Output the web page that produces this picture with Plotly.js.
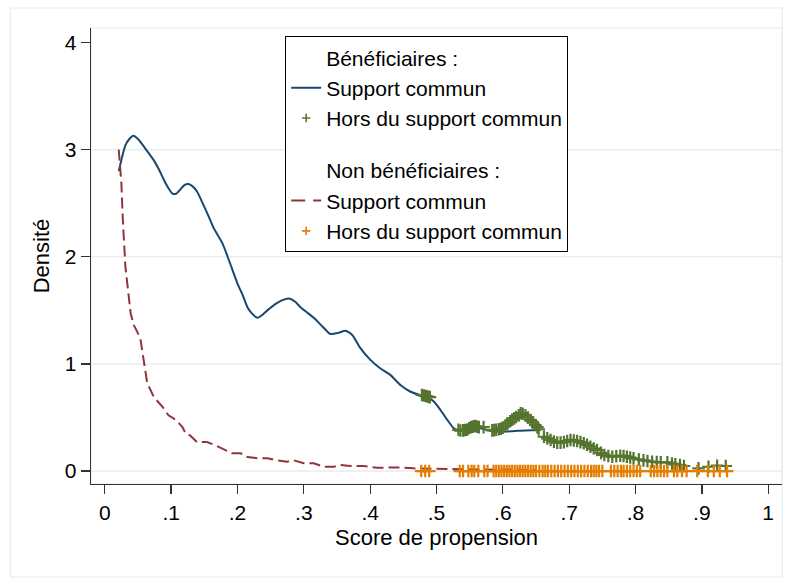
<!DOCTYPE html>
<html>
<head>
<meta charset="utf-8">
<script src="https://cdn.plot.ly/plotly-3.0.1.min.js"></script>
<style>
  html, body { margin: 0; padding: 0; background: #ffffff; }
  #chart { width: 788px; height: 581px; }
</style>
</head>
<body>
<div id="chart"></div>
<script>
// ---- Data ----
// Bénéficiaires, support commun (density line)
var benefSupportX = [0.021, 0.026, 0.031, 0.037, 0.043, 0.050, 0.060, 0.074, 0.082, 0.089,
  0.096, 0.102, 0.108, 0.114, 0.120, 0.126, 0.132, 0.139, 0.149, 0.157,
  0.164, 0.177, 0.187, 0.200, 0.208, 0.215, 0.222, 0.230, 0.238, 0.245,
  0.260, 0.270, 0.278, 0.287, 0.295, 0.305, 0.315, 0.328, 0.340, 0.352,
  0.363, 0.373, 0.385, 0.400, 0.415, 0.430, 0.446, 0.461, 0.475, 0.484,
  0.496, 0.506, 0.516, 0.526, 0.536, 0.551, 0.566, 0.581, 0.597, 0.622, 0.657];
var benefSupportY = [2.80, 2.93, 3.04, 3.10, 3.13, 3.10, 3.02, 2.90, 2.81, 2.72,
  2.64, 2.59, 2.59, 2.63, 2.67, 2.68, 2.66, 2.61, 2.48, 2.37,
  2.27, 2.13, 1.97, 1.75, 1.64, 1.53, 1.47, 1.43, 1.46, 1.50,
  1.57, 1.60, 1.61, 1.58, 1.53, 1.48, 1.43, 1.35, 1.28, 1.29,
  1.31, 1.27, 1.15, 1.04, 0.96, 0.90, 0.80, 0.74, 0.71, 0.70,
  0.65, 0.57, 0.48, 0.40, 0.376, 0.39, 0.40, 0.376, 0.367, 0.376, 0.383];

// Bénéficiaires, hors du support commun (markers)
var benefOffX = [0.478, 0.481, 0.484, 0.487, 0.490, 0.533, 0.536, 0.540, 0.543, 0.546,
  0.549, 0.552, 0.555, 0.558, 0.561, 0.564, 0.571, 0.584, 0.587, 0.590,
  0.594, 0.597, 0.600, 0.604, 0.607, 0.611, 0.614, 0.617, 0.620, 0.624,
  0.627, 0.630, 0.634, 0.638, 0.642, 0.645, 0.649, 0.652, 0.654, 0.662,
  0.667, 0.672, 0.677, 0.682, 0.687, 0.692, 0.697, 0.702, 0.707, 0.712,
  0.717, 0.722, 0.727, 0.732, 0.737, 0.742, 0.748, 0.753, 0.759, 0.765,
  0.771, 0.777, 0.782, 0.787, 0.792, 0.797, 0.805, 0.812, 0.818, 0.825,
  0.832, 0.838, 0.848, 0.855, 0.860, 0.867, 0.873, 0.895, 0.910, 0.923, 0.936];
var benefOffY = [0.71, 0.705, 0.70, 0.695, 0.69, 0.385, 0.378, 0.38, 0.383, 0.386,
  0.40, 0.41, 0.415, 0.42, 0.415, 0.41, 0.41, 0.38, 0.382, 0.385,
  0.39, 0.395, 0.405, 0.425, 0.445, 0.465, 0.48, 0.49, 0.505, 0.52,
  0.54, 0.535, 0.52, 0.50, 0.476, 0.455, 0.43, 0.41, 0.39, 0.32,
  0.305, 0.29, 0.275, 0.265, 0.265, 0.27, 0.28, 0.29, 0.285, 0.28,
  0.27, 0.26, 0.245, 0.227, 0.21, 0.196, 0.17, 0.15, 0.14, 0.134,
  0.138, 0.143, 0.14, 0.134, 0.126, 0.118, 0.108, 0.10, 0.094, 0.087,
  0.083, 0.081, 0.081, 0.07, 0.063, 0.055, 0.047, 0.025, 0.04, 0.05, 0.047];

// Non bénéficiaires, support commun (density line)
var nonBenefSupportX = [0.021, 0.023, 0.025, 0.027, 0.029, 0.031, 0.035, 0.039, 0.044, 0.049,
  0.054, 0.059, 0.064, 0.074, 0.087, 0.096, 0.104, 0.112, 0.117, 0.122,
  0.129, 0.139, 0.154, 0.167, 0.180, 0.192, 0.205, 0.215, 0.230, 0.245,
  0.260, 0.275, 0.285, 0.300, 0.315, 0.330, 0.345, 0.355, 0.370, 0.390,
  0.410, 0.430, 0.446, 0.465, 0.485, 0.505, 0.525, 0.560, 0.600, 0.650];
var nonBenefSupportY = [3.00, 2.81, 2.69, 2.37, 2.16, 1.91, 1.69, 1.47, 1.36, 1.30,
  1.22, 1.005, 0.82, 0.69, 0.60, 0.52, 0.49, 0.445, 0.41, 0.35,
  0.33, 0.27, 0.27, 0.24, 0.20, 0.165, 0.165, 0.13, 0.12, 0.12,
  0.10, 0.087, 0.10, 0.072, 0.072, 0.04, 0.04, 0.056, 0.047, 0.047,
  0.031, 0.031, 0.034, 0.025, 0.022, 0.02, 0.016, 0.014, 0.012, 0.010];

// Non bénéficiaires, hors du support commun (markers at density 0)
var nonBenefOffX = [0.477, 0.483, 0.489, 0.535, 0.540, 0.548, 0.553, 0.557, 0.563, 0.572,
  0.577, 0.586, 0.590, 0.594, 0.598, 0.602, 0.606, 0.610, 0.614, 0.618,
  0.622, 0.626, 0.630, 0.634, 0.638, 0.642, 0.646, 0.650, 0.655, 0.660,
  0.664, 0.668, 0.673, 0.678, 0.683, 0.688, 0.693, 0.698, 0.703, 0.708,
  0.713, 0.718, 0.723, 0.728, 0.733, 0.737, 0.741, 0.745, 0.750, 0.763,
  0.768, 0.773, 0.778, 0.782, 0.787, 0.792, 0.797, 0.802, 0.807, 0.823,
  0.828, 0.833, 0.838, 0.843, 0.848, 0.858, 0.863, 0.870, 0.877, 0.893,
  0.909, 0.918, 0.927, 0.938];
var nonBenefOffY = [0, 0, 0, 0, 0, 0, 0, 0, 0, 0,
  0, 0, 0, 0, 0, 0, 0, 0, 0, 0,
  0, 0, 0, 0, 0, 0, 0, 0, 0, 0,
  0, 0, 0, 0, 0, 0, 0, 0, 0, 0,
  0, 0, 0, 0, 0, 0, 0, 0, 0, 0,
  0, 0, 0, 0, 0, 0, 0, 0, 0, 0,
  0, 0, 0, 0, 0, 0, 0, 0, 0, 0,
  0, 0, 0, 0];

// Axis ticks
var xTickVals = [0, 0.1, 0.2, 0.3, 0.4, 0.5, 0.6, 0.7, 0.8, 0.9, 1];
var xTickText = ['0', '.1', '.2', '.3', '.4', '.5', '.6', '.7', '.8', '.9', '1'];
var yTickVals = [0, 1, 2, 3, 4];
var yTickText = ['0', '1', '2', '3', '4'];
var yGridVals = [0, 1, 2, 3];

// Legend labels
var headerBenef = 'Bénéficiaires :';
var headerNonBenef = 'Non bénéficiaires :';
var labelSupport = 'Support commun';
var labelOff = 'Hors du support commun';

// ---- Styles ----
var FONT = 'Liberation Sans, Arial, Helvetica, sans-serif';
var FS = 22;
var cBlue = '#1a476f', cRed = '#90353b', cGreen = '#55752f', cOrange = '#e37e00';
var gridColor = '#e5edf0';

var traces = [
  // data traces (drawn; kept out of the legend)
  { x: benefSupportX, y: benefSupportY, type: 'scatter', mode: 'lines', showlegend: false,
    line: { color: cBlue, width: 2, shape: 'spline', smoothing: 0.6 } },
  { x: nonBenefSupportX, y: nonBenefSupportY, type: 'scatter', mode: 'lines', showlegend: false,
    line: { color: cRed, width: 2, dash: '11px,5px' } },
  { x: benefOffX, y: benefOffY, type: 'scatter', mode: 'markers', showlegend: false,
    marker: { symbol: 'cross-thin-open', size: 9, color: cGreen, line: { color: cGreen, width: 2.2 } } },
  { x: nonBenefOffX, y: nonBenefOffY, type: 'scatter', mode: 'markers', showlegend: false,
    marker: { symbol: 'cross-thin-open', size: 9, color: cOrange, line: { color: cOrange, width: 2.2 } } },
  // legend entries
  { x: [null], y: [null], type: 'scatter', mode: 'lines', name: headerBenef,
    line: { color: 'rgba(0,0,0,0)', width: 0 }, legendgroup: 'a', legendrank: 1 },
  { x: [null], y: [null], type: 'scatter', mode: 'lines', name: labelSupport,
    line: { color: cBlue, width: 2 }, legendgroup: 'a', legendrank: 2 },
  { x: [null], y: [null], type: 'scatter', mode: 'markers', name: labelOff,
    marker: { symbol: 'cross-thin-open', size: 6, color: cGreen, line: { color: cGreen, width: 1.6 } },
    legendgroup: 'a', legendrank: 3 },
  { x: [null], y: [null], type: 'scatter', mode: 'lines', name: headerNonBenef,
    line: { color: 'rgba(0,0,0,0)', width: 0 }, legendgroup: 'b', legendrank: 4 },
  { x: [null], y: [null], type: 'scatter', mode: 'lines', name: labelSupport,
    line: { color: cRed, width: 2, dash: '14px,8px' }, legendgroup: 'b', legendrank: 5 },
  { x: [null], y: [null], type: 'scatter', mode: 'markers', name: labelOff,
    marker: { symbol: 'cross-thin-open', size: 6, color: cOrange, line: { color: cOrange, width: 1.6 } },
    legendgroup: 'b', legendrank: 6 }
];

var shapes = [
  // outer graph region border
  { type: 'rect', xref: 'paper', yref: 'paper', x0: -0.1168, x1: 1.0004, y0: -0.204, y1: 1.0439,
    line: { color: '#e2eaee', width: 1 }, layer: 'below' },
  // plot region outline
  { type: 'rect', xref: 'paper', yref: 'paper', x0: 0, x1: 1, y0: 0, y1: 1,
    line: { color: '#e2eaee', width: 1 }, layer: 'below' }
];
yGridVals.forEach(function (v) {
  shapes.push({ type: 'line', xref: 'paper', yref: 'y', x0: 0, x1: 1, y0: v, y1: v,
    line: { color: gridColor, width: 1.5 }, layer: 'below' });
});

var layout = {
  width: 788, height: 581,
  margin: { l: 90.7, r: 6.3, t: 28, b: 97 },
  paper_bgcolor: '#ffffff', plot_bgcolor: '#ffffff',
  font: { family: FONT, size: FS, color: '#000000' },
  showlegend: true,
  legend: {
    x: 0.281, y: 0.982, xanchor: 'left', yanchor: 'top',
    bgcolor: '#ffffff', bordercolor: '#000000', borderwidth: 1,
    font: { family: FONT, size: 21, color: '#000000' },
    traceorder: 'grouped', tracegroupgap: 22, itemwidth: 30
  },
  xaxis: {
    range: [-0.0208, 1.0208], tickvals: xTickVals, ticktext: xTickText,
    showgrid: false, zeroline: false, showline: true, linecolor: '#333333', linewidth: 1.3,
    ticks: 'outside', ticklen: 9, tickwidth: 1.3, tickcolor: '#333333',
    tickfont: { family: FONT, size: 21, color: '#000000' },
    title: { text: 'Score de propension', font: { family: FONT, size: FS, color: '#000000' }, standoff: 7 },
    automargin: false, fixedrange: true
  },
  yaxis: {
    range: [-0.121, 4.136], tickvals: yTickVals, ticktext: yTickText,
    showgrid: false, zeroline: false, showline: true, linecolor: '#333333', linewidth: 1.3,
    ticks: 'outside', ticklen: 9, tickwidth: 1.3, tickcolor: '#333333',
    tickfont: { family: FONT, size: 21, color: '#000000' },
    title: { text: 'Densité', font: { family: FONT, size: FS, color: '#000000' }, standoff: 9 },
    automargin: false, fixedrange: true
  },
  shapes: shapes
};

Plotly.newPlot('chart', traces, layout, { displayModeBar: false, staticPlot: true });
</script>
</body>
</html>
